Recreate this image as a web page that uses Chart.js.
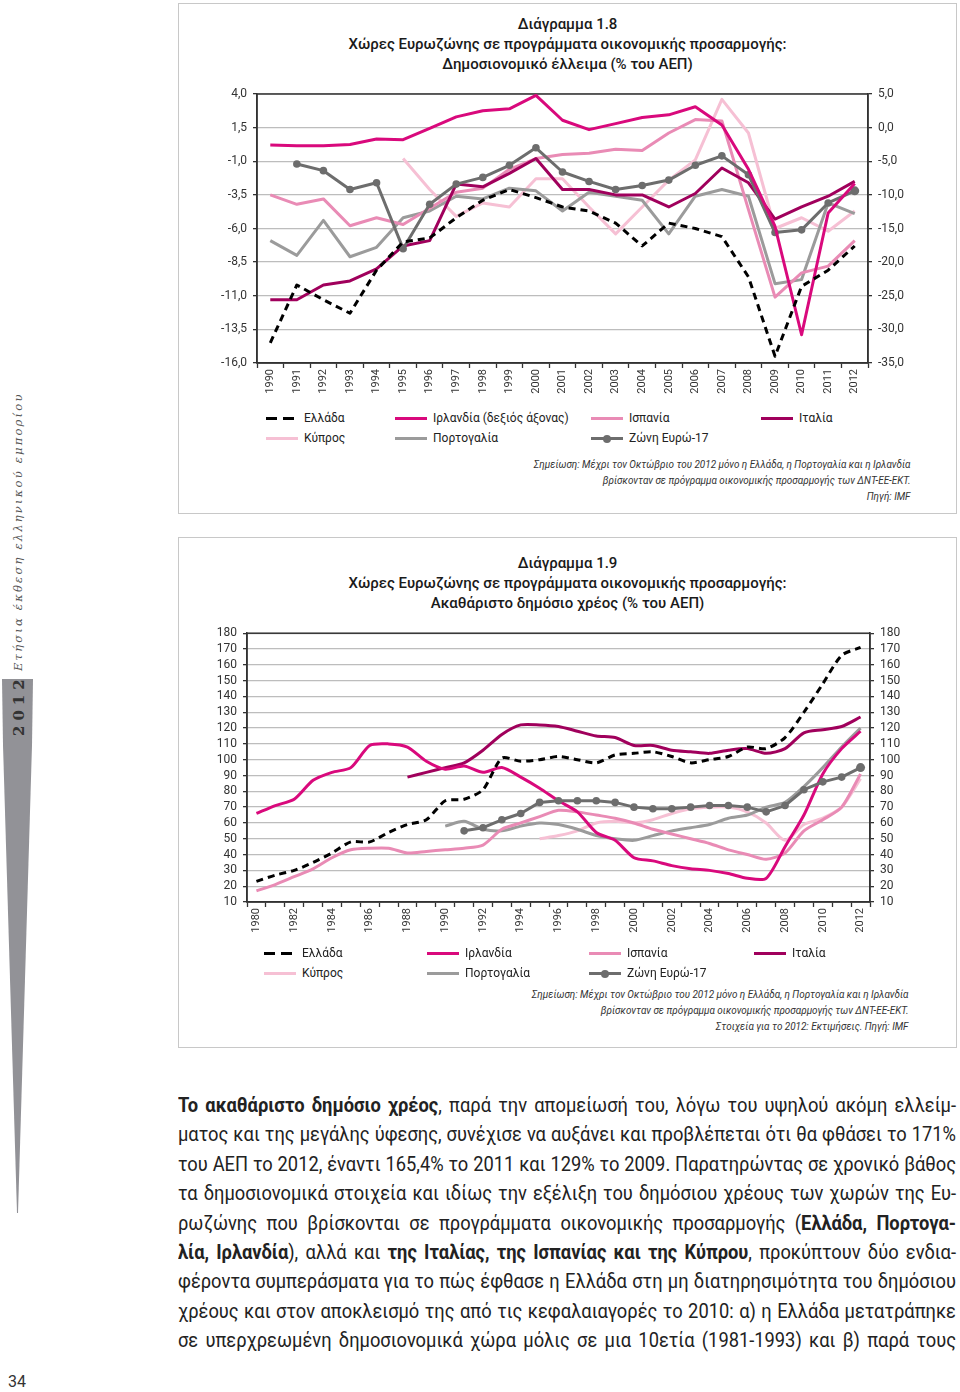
<!DOCTYPE html>
<html lang="el">
<head>
<meta charset="utf-8">
<script src="https://cdn.jsdelivr.net/npm/chart.js@4.4.1/dist/chart.umd.min.js"></script>
<style>
    body { margin: 0; width: 960px; height: 1392px; background: #fff; position: relative; overflow: hidden; font-family: Roboto, "Noto Sans", sans-serif; color: #222; }
    .box { position: absolute; left: 178px; width: 777px; height: 509px; border: 1px solid #c8c8c8; }
    .ttl { position: absolute; left: 178px; width: 779px; text-align: center; font-size: 15px; line-height: 20px; color: #1a1a1a; font-weight: 500; }
    .cv { position: absolute; left: 180px; width: 760px; }
    .lg { position: absolute; font-size: 12px; line-height: 14px; color: #222; white-space: nowrap; }
    .ic { position: absolute; width: 32px; height: 3px; }
    .dot { position: absolute; width: 8px; height: 8px; border-radius: 50%; background: #6d6d6d; left: 12px; top: -2.5px; }
    .note { position: absolute; right: 50px; text-align: right; font-size: 11px; line-height: 16px; font-style: italic; color: #333; white-space: nowrap; transform: scaleX(0.9); transform-origin: right center; }
    .txt { position: absolute; left: 178px; top: 1091px; font-size: 20.5px; line-height: 29.4px; color: #222; }
    .ln { transform-origin: left center; text-align: justify; text-align-last: justify; }
    .side { position: absolute; left: 8px; writing-mode: vertical-rl; transform: rotate(180deg); font-family: "DejaVu Serif", "Liberation Serif", serif; white-space: nowrap; }
</style>
</head>
<body>

<div class="box" style="top:3px"></div>
<div class="box" style="top:537px"></div>

<div class="ttl" style="top:14px">Διάγραμμα 1.8<br>Χώρες Ευρωζώνης σε προγράμματα οικονομικής προσαρμογής:<br>Δημοσιονομικό έλλειμα (% του ΑΕΠ)</div>
<div class="cv" style="top:80px;height:320px"><canvas id="chart1"></canvas></div>
<div id="legend1"></div>
<div class="note" style="top:457px">Σημείωση: Μέχρι τον Οκτώβριο του 2012 μόνο η Ελλάδα, η Πορτογαλία και η Ιρλανδία<br>βρίσκονταν σε πρόγραμμα οικονομικής προσαρμογής των ΔΝΤ-ΕΕ-ΕΚΤ.<br>Πηγή: IMF</div>

<div class="ttl" style="top:553px">Διάγραμμα 1.9<br>Χώρες Ευρωζώνης σε προγράμματα οικονομικής προσαρμογής:<br>Ακαθάριστο δημόσιο χρέος (% του ΑΕΠ)</div>
<div class="cv" style="top:620px;height:330px"><canvas id="chart2"></canvas></div>
<div id="legend2"></div>
<div class="note" style="top:987px;right:52px">Σημείωση: Μέχρι τον Οκτώβριο του 2012 μόνο η Ελλάδα, η Πορτογαλία και η Ιρλανδία<br>βρίσκονταν σε πρόγραμμα οικονομικής προσαρμογής των ΔΝΤ-ΕΕ-ΕΚΤ.<br>Στοιχεία για το 2012: Εκτιμήσεις. Πηγή: IMF</div>

<div class="txt" id="txt">
    <div class="ln"><span><b>Το ακαθάριστο δημόσιο χρέος</b>, παρά την απομείωσή του, λόγω του υψηλού ακόμη ελλείμ-</span></div>
    <div class="ln"><span>ματος και της μεγάλης ύφεσης, συνέχισε να αυξάνει και προβλέπεται ότι θα φθάσει το 171%</span></div>
    <div class="ln"><span>του ΑΕΠ το 2012, έναντι 165,4% το 2011 και 129% το 2009. Παρατηρώντας σε χρονικό βάθος</span></div>
    <div class="ln"><span>τα δημοσιονομικά στοιχεία και ιδίως την εξέλιξη του δημόσιου χρέους των χωρών της Ευ-</span></div>
    <div class="ln"><span>ρωζώνης που βρίσκονται σε προγράμματα οικονομικής προσαρμογής (<b>Ελλάδα, Πορτογα-</b></span></div>
    <div class="ln"><span><b>λία, Ιρλανδία</b>), αλλά και <b>της Ιταλίας, της Ισπανίας και της Κύπρου</b>, προκύπτουν δύο ενδια-</span></div>
    <div class="ln"><span>φέροντα συμπεράσματα για το πώς έφθασε η Ελλάδα στη μη διατηρησιμότητα του δημόσιου</span></div>
    <div class="ln"><span>χρέους και στον αποκλεισμό της από τις κεφαλαιαγορές το 2010: α) η Ελλάδα μετατράπηκε</span></div>
    <div class="ln"><span>σε υπερχρεωμένη δημοσιονομικά χώρα μόλις σε μια 10ετία (1981-1993) και β) παρά τους</span></div>
</div>

<!-- πλαϊνή σήμανση -->
<div style="position:absolute;left:0;top:679px;width:36px;height:534px;background:#929297;clip-path:polygon(2px 0,33px 0,32px 66px,18px 100%,17px 100%,3px 66px)"></div>
<div class="side" style="top:684px;height:52px;font-size:15px;font-weight:bold;letter-spacing:5px;color:#333;left:10px">2012</div>
<div class="side" style="top:403px;height:268px;font-size:11.5px;font-style:italic;letter-spacing:2.2px;color:#555;left:11px">Ετήσια έκθεση ελληνικού εμπορίου</div>
<div style="position:absolute;left:8px;top:1372px;font-size:16px;color:#333">34</div>

<script>
// Διάγραμμα 1.8 - έλλειμμα (% ΑΕΠ), Ιρλανδία στον δεξιό άξονα
var years1 = ['1990', '1991', '1992', '1993', '1994', '1995', '1996', '1997', '1998', '1999', '2000', '2001',
    '2002', '2003', '2004', '2005', '2006', '2007', '2008', '2009', '2010', '2011', '2012'];
var greeceDef = [-14.5, -10.2, -11.3, -12.3, -9.1, -7.0, -6.7, -5.2, -3.9, -3.1, -3.7, -4.4, -4.7, -5.6, -7.3, -5.6, -6.0, -6.6, -9.6, -15.5, -10.3, -9.1, -7.3];
var irelandDef = [-2.6, -2.7, -2.7, -2.5, -1.7, -1.8, -0.1, 1.6, 2.5, 2.8, 4.8, 1.1, -0.3, 0.6, 1.5, 1.9, 3.1, 0.4, -6.2, -14.7, -30.8, -12.7, -8.3];
var spainDef = [-3.5, -4.2, -3.8, -5.8, -5.2, -5.7, -4.5, -3.3, -3.0, -1.6, -0.8, -0.5, -0.4, -0.1, -0.2, 1.1, 2.1, 2.0, -4.6, -11.1, -9.3, -8.8, -6.9];
var italyDef = [-11.3, -11.3, -10.2, -9.9, -9.0, -7.3, -6.9, -2.7, -2.9, -1.9, -0.8, -3.1, -3.1, -3.5, -3.5, -4.4, -3.4, -1.5, -2.6, -5.3, -4.4, -3.6, -2.5];
var cyprusDef = [null, null, null, null, null, -0.8, -3.1, -5.1, -4.1, -4.4, -2.3, -2.3, -4.4, -6.4, -4.4, -2.4, -0.9, 3.6, 1.1, -6.0, -5.2, -6.2, -4.7];
var portugalDef = [-6.9, -8.0, -5.4, -8.1, -7.4, -5.2, -4.7, -3.6, -3.8, -3.0, -3.2, -4.7, -3.3, -3.6, -3.9, -6.4, -3.6, -3.1, -3.6, -10.1, -9.8, -4.1, -4.9];
var euroDef = [null, -1.2, -1.7, -3.1, -2.6, -7.5, -4.2, -2.7, -2.2, -1.3, 0.0, -1.8, -2.5, -3.1, -2.8, -2.4, -1.3, -0.6, -2.0, -6.3, -6.1, -4.1, -3.2];
var leftTicks1 = [-16, -13.5, -11, -8.5, -6, -3.5, -1, 1.5, 4];
var rightTicks1 = [-35, -30, -25, -20, -15, -10, -5, 0, 5];

// Διάγραμμα 1.9 - ακαθάριστο χρέος (% ΑΕΠ)
var years2 = ['1980', '1981', '1982', '1983', '1984', '1985', '1986', '1987', '1988', '1989', '1990', '1991',
    '1992', '1993', '1994', '1995', '1996', '1997', '1998', '1999', '2000', '2001', '2002', '2003', '2004',
    '2005', '2006', '2007', '2008', '2009', '2010', '2011', '2012'];
var greeceDebt = [23, 27, 30, 35, 41, 48, 48, 54, 59, 62, 74, 75, 81, 101, 99, 100, 102, 100, 98, 103, 104, 105, 102, 98, 100, 102, 108, 107, 114, 130, 148, 166, 171];
var irelandDebt = [66, 71, 75, 87, 92, 95, 109, 110, 108, 99, 94, 96, 92, 95, 89, 82, 74, 67, 54, 49, 38, 36, 33, 31, 30, 28, 25, 25, 45, 65, 91, 107, 118];
var spainDebt = [17, 21, 26, 31, 38, 43, 44, 44, 41, 42, 43, 44, 46, 56, 60, 64, 68, 67, 65, 63, 60, 56, 53, 50, 47, 43, 40, 37, 41, 55, 62, 70, 91];
var italyDebt = [null, null, null, null, null, null, null, null, 89, 92, 95, 98, 106, 116, 122, 122, 121, 118, 115, 114, 109, 109, 106, 105, 104, 106, 107, 104, 107, 117, 119, 121, 127];
var cyprusDebt = [null, null, null, null, null, null, null, null, null, null, null, null, null, null, null, 50, 52, 55, 60, 61, 60, 62, 66, 69, 70, 70, 67, 60, 49, 59, 63, 70, 88];
var portugalDebt = [null, null, null, null, null, null, null, null, null, null, 58, 61, 56, 55, 58, 60, 59, 56, 52, 50, 49, 52, 55, 57, 59, 63, 65, 70, 73, 83, 95, 108, 120];
var euroDebt = [null, null, null, null, null, null, null, null, null, null, null, 55, 57, 62, 66, 73, 74, 74, 74, 73, 70, 69, 69, 70, 71, 71, 70, 67, 71, 81, 86, 89, 95];
var ticks2 = [10, 20, 30, 40, 50, 60, 70, 80, 90, 100, 110, 120, 130, 140, 150, 160, 170, 180];

var colores = {
    greece: '#000000', ireland: '#d9097c', spain: '#e98bb5', italy: '#a0005c',
    cyprus: '#f6c0d4', portugal: '#9b9b9b', euro: '#6d6d6d'
};

function serie(label, data, color, orden, extra) {
    var ds = {
        label: label, data: data, borderColor: color, backgroundColor: color,
        borderWidth: 3, pointRadius: 0, fill: false, tension: 0, order: orden,
        borderJoinStyle: 'round'
    };
    for (var k in extra) ds[k] = extra[k];
    return ds;
}

var marco = {
    id: 'marco',
    beforeDatasetsDraw: function (chart) {
        var a = chart.chartArea, ctx = chart.ctx;
        ctx.save();
        ctx.strokeStyle = '#333';
        ctx.lineWidth = 1.5;
        ctx.strokeRect(a.left, a.top, a.right - a.left, a.bottom - a.top);
        ctx.restore();
    }
};

function ejeY(pos, lista, ancho, fmt, grid) {
    return {
        position: pos, min: lista[0], max: lista[lista.length - 1],
        afterBuildTicks: function (s) { s.ticks = lista.map(function (v) { return { value: v }; }); },
        afterFit: function (s) { s.width = ancho; },
        border: { display: true, color: '#333', width: 1.5 },
        grid: { drawOnChartArea: grid, color: '#bdbdbd', lineWidth: 1.3, tickLength: 4, tickColor: '#333', tickWidth: 1.3 },
        ticks: { color: '#333', font: { size: 12 }, padding: 6, autoSkip: false, callback: fmt }
    };
}

function ejeX(alto, cada) {
    return {
        offset: true,
        afterFit: function (s) { s.height = alto; },
        border: { display: true, color: '#333', width: 1.5 },
        grid: { offset: true, drawOnChartArea: false, tickLength: 5, tickColor: '#333', tickWidth: 1.3 },
        ticks: {
            color: '#333', font: { size: 11 }, minRotation: 90, maxRotation: 90, autoSkip: false, padding: 1,
            callback: function (v, i) { return i % cada === 0 ? this.getLabelForValue(v) : ''; }
        }
    };
}

function coma(v) { return v.toFixed(1).replace('.', ','); }

function pintarGrafico(destino, labels, datasets, scales, padTop) {
    var miCanvas = document.getElementById(destino).getContext('2d');
    return new Chart(miCanvas, {
        type: 'line',
        data: { labels: labels, datasets: datasets },
        options: {
            responsive: true, maintainAspectRatio: false, animation: false,
            layout: { padding: { top: padTop, left: 0, right: 0, bottom: 0 } },
            plugins: { legend: { display: false }, tooltip: { enabled: false } },
            scales: scales
        },
        plugins: [marco]
    });
}

Chart.defaults.font.family = 'Roboto, "Noto Sans", sans-serif';

var euroPunto = function (n) {
    return {
        pointRadius: function (c) { return c.dataIndex === n - 1 ? 4.5 : 3.8; },
        pointBackgroundColor: colores.euro, pointBorderWidth: 0
    };
};

pintarGrafico('chart1', years1, [
    serie('Ελλάδα', greeceDef, colores.greece, 0, { borderDash: [7, 5], borderCapStyle: 'butt' }),
    serie('Ιρλανδία (δεξιός άξονας)', irelandDef, colores.ireland, 1, { yAxisID: 'y2' }),
    serie('Ιταλία', italyDef, colores.italy, 3),
    serie('Ζώνη Ευρώ-17', euroDef, colores.euro, 2, euroPunto(years1.length)),
    serie('Ισπανία', spainDef, colores.spain, 4),
    serie('Πορτογαλία', portugalDef, colores.portugal, 5),
    serie('Κύπρος', cyprusDef, colores.cyprus, 6)
], {
    x: ejeX(37, 1),
    y: ejeY('left', leftTicks1, 77, function (v) { return coma(v); }, true),
    y2: ejeY('right', rightTicks1, 72, function (v) { return coma(v); }, false)
}, 14);

pintarGrafico('chart2', years2, [
    serie('Ελλάδα', greeceDebt, colores.greece, 0, { borderDash: [7, 5], borderCapStyle: 'butt', tension: 0.25 }),
    serie('Ιρλανδία', irelandDebt, colores.ireland, 2, { tension: 0.25 }),
    serie('Ιταλία', italyDebt, colores.italy, 3, { tension: 0.25 }),
    serie('Ζώνη Ευρώ-17', euroDebt, colores.euro, 1, euroPunto(years2.length)),
    serie('Ισπανία', spainDebt, colores.spain, 4, { tension: 0.25 }),
    serie('Πορτογαλία', portugalDebt, colores.portugal, 5, { tension: 0.25 }),
    serie('Κύπρος', cyprusDebt, colores.cyprus, 6, { tension: 0.25 })
], {
    x: ejeX(48, 2),
    y: ejeY('left', ticks2, 67, function (v) { return v; }, true),
    y2: ejeY('right', ticks2, 70, function (v) { return v; }, false)
}, 12);

// leyendas en html
function leyenda(destino, top, cols, items) {
    var html = '';
    items.forEach(function (it, i) {
        var x = cols[i % 4], y = top + Math.floor(i / 4) * 20;
        var icono;
        if (it.tipo === 'dash') {
            icono = '<div class="ic" style="left:-38px;top:6px;background:repeating-linear-gradient(90deg,#000 0 11px,transparent 11px 17px)"></div>';
        } else if (it.tipo === 'punto') {
            icono = '<div class="ic" style="left:-38px;top:6px;background:' + it.color + '"><div class="dot"></div></div>';
        } else {
            icono = '<div class="ic" style="left:-38px;top:6px;background:' + it.color + '"></div>';
        }
        html += '<div class="lg" style="left:' + x + 'px;top:' + y + 'px">' + icono + it.texto + '</div>';
    });
    document.getElementById(destino).innerHTML = html;
}

leyenda('legend1', 411, [304, 433, 629, 799], [
    { texto: 'Ελλάδα', tipo: 'dash' },
    { texto: 'Ιρλανδία (δεξιός άξονας)', color: colores.ireland },
    { texto: 'Ισπανία', color: colores.spain },
    { texto: 'Ιταλία', color: colores.italy },
    { texto: 'Κύπρος', color: colores.cyprus },
    { texto: 'Πορτογαλία', color: colores.portugal },
    { texto: 'Ζώνη Ευρώ-17', tipo: 'punto', color: colores.euro }
]);
leyenda('legend2', 946, [302, 465, 627, 792], [
    { texto: 'Ελλάδα', tipo: 'dash' },
    { texto: 'Ιρλανδία', color: colores.ireland },
    { texto: 'Ισπανία', color: colores.spain },
    { texto: 'Ιταλία', color: colores.italy },
    { texto: 'Κύπρος', color: colores.cyprus },
    { texto: 'Πορτογαλία', color: colores.portugal },
    { texto: 'Ζώνη Ευρώ-17', tipo: 'punto', color: colores.euro }
]);

// texto justificado: se comprime horizontalmente para que cada renglón quepa en 778px
var lineas = document.querySelectorAll('#txt .ln');
var maxAncho = 0;
lineas.forEach(function (l) {
    l.style.whiteSpace = 'nowrap';
    var w = l.firstElementChild.getBoundingClientRect().width;
    if (w > maxAncho) maxAncho = w;
});
var escala = Math.min(1, 778 / (maxAncho + 6));
lineas.forEach(function (l) {
    l.style.whiteSpace = 'normal';
    l.style.width = (778 / escala) + 'px';
    l.style.transform = 'scaleX(' + escala + ')';
});
</script>
</body>
</html>
